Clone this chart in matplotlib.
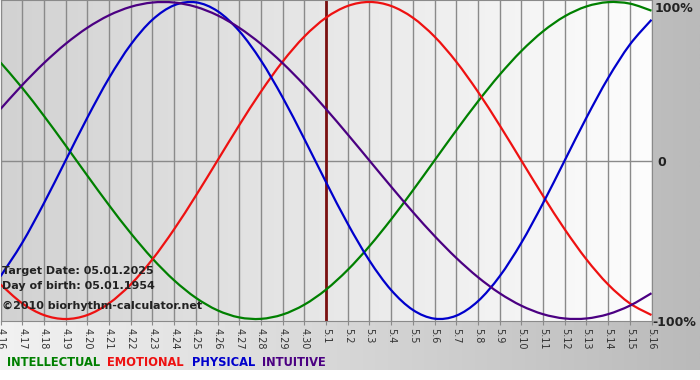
import numpy as np
import matplotlib
matplotlib.use('Agg')
import matplotlib.pyplot as plt
from matplotlib.path import Path
from matplotlib.patches import PathPatch

# dates 4.16 .. 5.16
days = ['4.16', '4.17', '4.18', '4.19', '4.20', '4.21', '4.22', '4.23', '4.24', '4.25',
        '4.26', '4.27', '4.28', '4.29', '4.30', '5.1', '5.2', '5.3', '5.4', '5.5',
        '5.6', '5.7', '5.8', '5.9', '5.10', '5.11', '5.12', '5.13', '5.14', '5.15', '5.16']
target_day = '5.1'

intellectual = [0.6182, 0.4582, 0.2817, 0.0951, -0.0951, -0.2817, -0.4582, -0.6182, -0.7557, -0.8660,
                -0.9450, -0.9898, -0.9989, -0.9718, -0.9096, -0.8146, -0.6901, -0.5406, -0.3717, -0.1893,
                0.0, 0.1893, 0.3717, 0.5406, 0.6901, 0.8146, 0.9096, 0.9718, 0.9989, 0.9898, 0.9450]
emotional = [-0.7818, -0.9010, -0.9749, -1.0, -0.9749, -0.9010, -0.7818, -0.6235, -0.4339, -0.2225,
             0.0, 0.2225, 0.4339, 0.6235, 0.7818, 0.9010, 0.9749, 1.0, 0.9749, 0.9010,
             0.7818, 0.6235, 0.4339, 0.2225, 0.0, -0.2225, -0.4339, -0.6235, -0.7818, -0.9010, -0.9749]
physical = [-0.7308, -0.5197, -0.2698, 0.0, 0.2698, 0.5197, 0.7308, 0.8879, 0.9791, 0.9977,
            0.9423, 0.8170, 0.6311, 0.3984, 0.1362, -0.1362, -0.3984, -0.6311, -0.8170, -0.9423,
            -0.9977, -0.9791, -0.8879, -0.7308, -0.5197, -0.2698, 0.0, 0.2698, 0.5197, 0.7308, 0.8879]
intuitive = [0.3247, 0.4759, 0.6142, 0.7357, 0.8372, 0.9158, 0.9694, 0.9966, 0.9966, 0.9694,
             0.9158, 0.8372, 0.7357, 0.6142, 0.4759, 0.3247, 0.1646, 0.0, -0.1646, -0.3247,
             -0.4759, -0.6142, -0.7357, -0.8372, -0.9158, -0.9694, -0.9966, -0.9966, -0.9694, -0.9158, -0.8372]

x = np.arange(len(days))
W, H = 700, 380


def smooth_line(ax, xs, ys, color):
    # draw the points as a smooth bezier path (catmull-rom style tangents)
    xs = np.asarray(xs, float)
    ys = np.asarray(ys, float)
    verts = [(xs[0], ys[0])]
    codes = [Path.MOVETO]
    n = len(xs)
    for k in range(n - 1):
        x0, y0 = xs[max(k - 1, 0)], ys[max(k - 1, 0)]
        x1, y1 = xs[k], ys[k]
        x2, y2 = xs[k + 1], ys[k + 1]
        x3, y3 = xs[min(k + 2, n - 1)], ys[min(k + 2, n - 1)]
        verts += [(x1 + (x2 - x0) / 6, y1 + (y2 - y0) / 6),
                  (x2 - (x3 - x1) / 6, y2 - (y3 - y1) / 6),
                  (x2, y2)]
        codes += [Path.CURVE4] * 3
    ax.add_patch(PathPatch(Path(verts, codes), facecolor='none', edgecolor=color, lw=1.6, zorder=3))


fig = plt.figure(figsize=(7, 3.8), dpi=100)
fig.patch.set_facecolor('white')

# outer grey gradient (light left -> dark right)
bg = fig.add_axes([0, 10 / H, 1, 370 / H], zorder=-10)
grad = np.linspace(0, 1, 256).reshape(1, -1)
bg.imshow(grad, cmap=matplotlib.colors.LinearSegmentedColormap.from_list('o', ['#f2f2f2', '#bababa']),
          aspect='auto', extent=[0, 1, 0, 1])
bg.set_axis_off()

ax = fig.add_axes([0.5 / W, (H - 321) / H, 651 / W, 321 / H])
ax.set_facecolor('none')
ax.set_xlim(0, len(days) - 1)
ax.set_ylim(-1.0125, 1.0125)
ax.imshow(grad, cmap=matplotlib.colors.LinearSegmentedColormap.from_list('i', ['#d2d2d2', '#fdfdfd']),
          aspect='auto', extent=[0, len(days) - 1, -1.0125, 1.0125], zorder=0)

for xi in x:
    ax.axvline(xi, color='#8a8a8a', lw=1, zorder=1)
ax.axhline(0, color='#8a8a8a', lw=1, zorder=1)

smooth_line(ax, x, intellectual, '#008000')
smooth_line(ax, x, emotional, '#ee1111')
smooth_line(ax, x, physical, '#0000cc')
smooth_line(ax, x, intuitive, '#4b0082')
ax.axvline(days.index(target_day), color='#7a1010', lw=2, zorder=2)

for s in ['top', 'bottom', 'right']:
    ax.spines[s].set_color('#8a8a8a')
ax.spines['left'].set_visible(False)

ax.set_yticks([])
ax.set_xticks(x)
ax.set_xticklabels(days, rotation=270, fontsize=7, color='#333333')
ax.tick_params(axis='x', direction='out', length=3, color='#8a8a8a', pad=2)

# right side labels
fig.text(655 / W, 1 - 8 / H, '100%', fontsize=9, fontweight='bold', color='#222222', va='center')
fig.text(657 / W, 1 - 162 / H, '0', fontsize=9, fontweight='bold', color='#222222', va='center')
fig.text(652 / W, 1 - 322 / H, '-100%', fontsize=9, fontweight='bold', color='#222222', va='center')

# info text
info_font = dict(fontsize=8, fontweight='bold', color='#222222', va='center')
fig.text(2 / W, 1 - 271 / H, 'Target Date: 05.01.2025', **info_font)
fig.text(2 / W, 1 - 286 / H, 'Day of birth: 05.01.1954', **info_font)
fig.text(2 / W, 1 - 306 / H, '\u00a92010 biorhythm-calculator.net', **info_font)

# legend words
legend_font = dict(fontsize=8.3, fontweight='bold', va='center')
fig.text(7 / W, 1 - 362 / H, 'INTELLECTUAL', color='#008000', **legend_font)
fig.text(107 / W, 1 - 362 / H, 'EMOTIONAL', color='#ee1111', **legend_font)
fig.text(192 / W, 1 - 362 / H, 'PHYSICAL', color='#0000cc', **legend_font)
fig.text(262 / W, 1 - 362 / H, 'INTUITIVE', color='#4b0082', **legend_font)

fig.savefig('out.png', dpi=100)
